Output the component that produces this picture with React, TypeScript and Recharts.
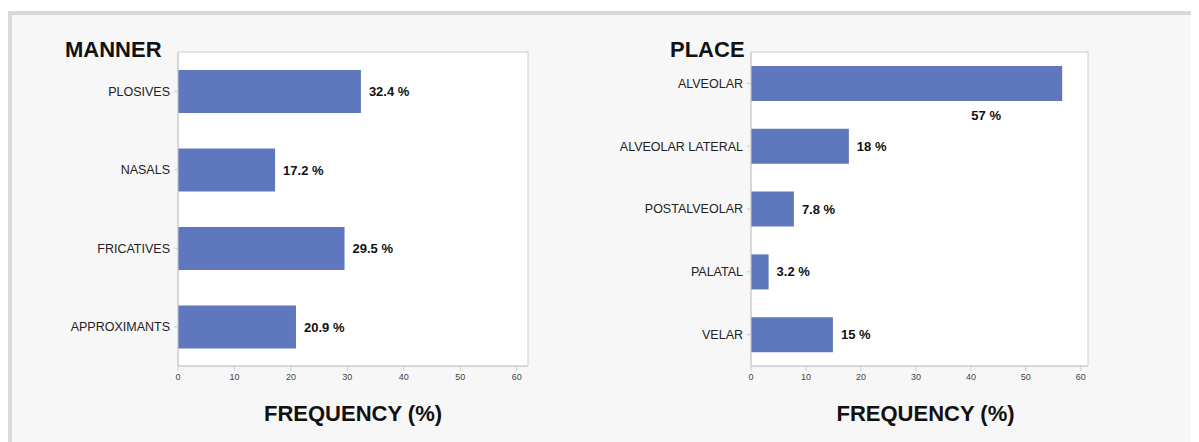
import { Bar, BarChart, Label, LabelList, ReferenceArea, XAxis, YAxis } from "recharts"

const mannerCategories = ["PLOSIVES", "NASALS", "FRICATIVES", "APPROXIMANTS"]
const mannerValues = [32.4, 17.2, 29.5, 20.9]
const mannerLabels = ["32.4 %", "17.2 %", "29.5 %", "20.9 %"]

const placeCategories = ["ALVEOLAR", "ALVEOLAR LATERAL", "POSTALVEOLAR", "PALATAL", "VELAR"]
const placeValues = [56.6, 17.8, 7.8, 3.2, 14.9]
const placeLabels = ["57 %", "18 %", "7.8 %", "3.2 %", "15 %"]

const frequencyTicks = [0, 10, 20, 30, 40, 50, 60]

type Row = { name: string; value: number; label: string }

const toRows = (names: string[], values: number[], labels: string[]): Row[] =>
  names.map((name, i) => ({ name, value: values[i], label: labels[i] }))

const BAR_COLOR = "#5e77bf"
const LINE_COLOR = "#cccccc"

function PanelChart({
  title,
  titleLeft,
  axisTitleShift,
  rows,
  left,
  yWidth,
  marginRight,
  domainMax,
  barSize,
}: {
  title: string
  titleLeft: number
  axisTitleShift: number
  rows: Row[]
  left: number
  yWidth: number
  marginRight: number
  domainMax: number
  barSize: number
}) {
  const renderLabel = (props: any) => {
    const { x, y, width, height, index, value } = props
    const row = rows[index]
    // the long bar gets its label tucked underneath, like the original
    if (row && row.value > 50) {
      return (
        <text x={x + width - 76} y={y + height + 14} textAnchor="middle" dominantBaseline="central" fontSize={13} fontWeight="bold" fill="#111">
          {value}
        </text>
      )
    }
    return (
      <text x={x + width + 8} y={y + height / 2} textAnchor="start" dominantBaseline="central" fontSize={13} fontWeight="bold" fill="#111">
        {value}
      </text>
    )
  }

  return (
    <div style={{ position: "absolute", left, top: 0 }}>
      <div
        style={{
          position: "absolute",
          left: titleLeft,
          top: 31,
          fontSize: 22,
          lineHeight: "22px",
          fontWeight: "bold",
          color: "#111",
          whiteSpace: "nowrap",
        }}
      >
        {title}
      </div>
      <BarChart
        width={560}
        height={434}
        data={rows}
        layout="vertical"
        margin={{ top: 44, right: marginRight, bottom: 0, left: 0 }}
      >
        <ReferenceArea x1={0} x2={domainMax} fill="#ffffff" fillOpacity={1} stroke={LINE_COLOR} strokeWidth={1} />
        <XAxis
          type="number"
          domain={[0, domainMax]}
          ticks={frequencyTicks}
          allowDataOverflow
          height={76}
          stroke={LINE_COLOR}
          tickSize={5}
          tickMargin={3}
          tick={{ fontSize: 9, fill: "#444" }}
        >
          <Label
            value="FREQUENCY (%)"
            position="insideBottom"
            offset={21}
            dx={axisTitleShift}
            style={{ fontSize: 22, fontWeight: "bold", fill: "#111" }}
          />
        </XAxis>
        <YAxis
          type="category"
          dataKey="name"
          width={yWidth}
          stroke={LINE_COLOR}
          tickSize={4}
          tickMargin={4}
          tick={{ fontSize: 12.5, fill: "#222" }}
        />
        <Bar dataKey="value" fill={BAR_COLOR} barSize={barSize} isAnimationActive={false}>
          <LabelList dataKey="label" content={renderLabel} />
        </Bar>
      </BarChart>
    </div>
  )
}

export default function App() {
  const manner = toRows(mannerCategories, mannerValues, mannerLabels)
  const place = toRows(placeCategories, placeValues, placeLabels)

  return (
    <div style={{ position: "relative", width: 1191, height: 434, fontFamily: "'Liberation Sans', Arial, sans-serif" }}>
      <div
        style={{
          position: "absolute",
          left: 0,
          top: 3,
          width: 1191,
          height: 431,
          boxSizing: "border-box",
          borderTop: "4px solid #d9d9d9",
          borderLeft: "4px solid #d9d9d9",
          background: "#f7f7f7",
        }}
      />
      <PanelChart title="MANNER" titleLeft={57} axisTitleShift={0} rows={manner} left={0} yWidth={170} marginRight={40} domainMax={62} barSize={43} />
      <PanelChart title="PLACE" titleLeft={90} axisTitleShift={6} rows={place} left={572} yWidth={171} marginRight={52} domainMax={61.3} barSize={35} />
    </div>
  )
}
